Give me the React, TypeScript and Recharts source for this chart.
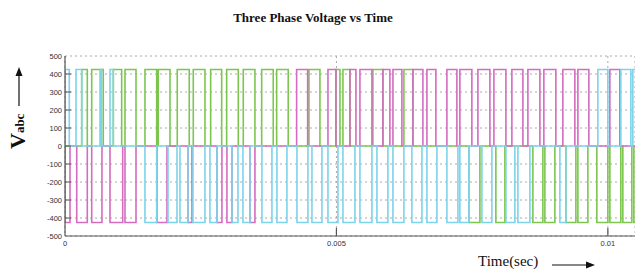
import React from 'react';
import { LineChart, Line, XAxis, YAxis, CartesianGrid } from 'recharts';

// ---- data (seconds / volts) ----
const T_MAX = 0.0105;
const LEVEL = 425;
const xTicks = [0, 0.005, 0.01];
const xTickLabels = ['0', '0.005', '0.01'];
const yTicks = [-500, -400, -300, -200, -100, 0, 100, 200, 300, 400, 500];

type Pulse = [number, number];

const greenPos: Pulse[] = [
  [0.000308, 0.000411], [0.000492, 0.000705], [0.00089, 0.001044], [0.001105, 0.001308],
  [0.001473, 0.001689], [0.001718, 0.001934], [0.002068, 0.002289], [0.002363, 0.002578],
  [0.002683, 0.002886], [0.002978, 0.003192], [0.003284, 0.003499], [0.003623, 0.003836],
  [0.003899, 0.004112], [0.004494, 0.004696], [0.004991, 0.005065], [0.00512, 0.005249],
  [0.005672, 0.005856], [0.006243, 0.006409],
];
const greenNeg: Pulse[] = [
  [0.00744, 0.007643], [0.007937, 0.008103], [0.008619, 0.008803], [0.00884, 0.009024],
  [0.009227, 0.009411], [0.009448, 0.009632], [0.009797, 0.01], [0.010037, 0.010239],
  [0.010276, 0.010442], [0.010479, 0.0106],
];
const magentaPos: Pulse[] = [
  [0.004267, 0.00447], [0.004844, 0.004991], [0.005249, 0.005359], [0.005433, 0.005654],
  [0.005856, 0.005985], [0.006041, 0.006206], [0.006409, 0.006593], [0.006667, 0.006832],
  [0.007035, 0.007219], [0.007274, 0.007495], [0.007606, 0.007827], [0.007901, 0.008122],
  [0.008232, 0.008435], [0.008527, 0.008748], [0.008821, 0.009042], [0.009171, 0.009392],
  [0.009448, 0.00965], [0.010037, 0.010221],
];
const magentaNeg: Pulse[] = [
  [0, 0.000092], [0.000216, 0.000411], [0.000492, 0.000681], [0.000829, 0.001063],
  [0.001105, 0.001308], [0.001694, 0.001879], [0.002265, 0.002339], [0.002799, 0.002891],
  [0.002983, 0.003076], [0.003407, 0.003499],
];
const cyanPos: Pulse[] = [
  [0, 0.000079], [0.000203, 0.000308], [0.000645, 0.000672], [0.000829, 0.00089],
  [0.009816, 0.01], [0.010239, 0.010424], [0.01046, 0.0106],
];
const cyanNeg: Pulse[] = [
  [0.001473, 0.001689], [0.001897, 0.002063], [0.002118, 0.002265], [0.002357, 0.002578],
  [0.00267, 0.002799], [0.003076, 0.003186], [0.003278, 0.003407], [0.003628, 0.003812],
  [0.003904, 0.004088], [0.004273, 0.004475], [0.004549, 0.004733], [0.004844, 0.005028],
  [0.00512, 0.005341], [0.005433, 0.005654], [0.005746, 0.005948], [0.006041, 0.006243],
  [0.00639, 0.006575], [0.006667, 0.006851], [0.007035, 0.007238], [0.007274, 0.00744],
  [0.00768, 0.007864], [0.008122, 0.008287], [0.008343, 0.008564], [0.009116, 0.009227],
];

function buildSeries(pos: Pulse[], neg: Pulse[]) {
  const pulses = [
    ...pos.map((p) => [p[0], p[1], LEVEL]),
    ...neg.map((p) => [p[0], p[1], -LEVEL]),
  ].sort((a, b) => a[0] - b[0]);
  const pts: { t: number; v: number }[] = [{ t: 0, v: 0 }];
  let last = 0;
  for (const [s, e, l] of pulses) {
    pts.push({ t: s, v: 0 }, { t: s, v: l }, { t: e, v: l }, { t: e, v: 0 });
    last = Math.max(last, e);
  }
  pts.push({ t: Math.max(last, T_MAX), v: 0 });
  return pts;
}

const greenData = buildSeries(greenPos, greenNeg);
const magentaData = buildSeries(magentaPos, magentaNeg);
const cyanData = buildSeries(cyanPos, cyanNeg);

const AXIS = '#555';

const YTick = (props: any) => {
  const { x, y, payload } = props;
  const edge = payload.value === 500 || payload.value === -500;
  return (
    <g>
      {!edge && <line x1={x} x2={x + 6} y1={y} y2={y} stroke={AXIS} strokeWidth={1} />}
      <text x={x - 3} y={y} dy="0.35em" textAnchor="end" fontSize={7.5} fill="#333" fontFamily="Liberation Sans, Arial, sans-serif">
        {payload.value}
      </text>
    </g>
  );
};

const XTickBottom = (props: any) => {
  const { x, y, payload, index } = props;
  const idx = xTicks.indexOf(payload.value);
  return (
    <g>
      {payload.value !== 0 && <line x1={x} x2={x} y1={y} y2={y - 8} stroke={AXIS} strokeWidth={1.2} />}
      <text x={x} y={y + 7} dy="0.35em" textAnchor="middle" fontSize={7.5} fill="#333" fontFamily="Liberation Sans, Arial, sans-serif">
        {xTickLabels[idx >= 0 ? idx : index]}
      </text>
    </g>
  );
};

const XTickTop = (props: any) => {
  const { x, y, payload } = props;
  if (payload.value === 0) return <g />;
  return <line x1={x} x2={x} y1={y} y2={y + 8} stroke={AXIS} strokeWidth={1.2} />;
};

export default function App() {
  return (
    <div style={{ position: 'absolute', left: 0, top: 0, width: 635, height: 270, background: '#fff', overflow: 'hidden' }}>
      <LineChart width={635} height={270} margin={{ top: 56, right: 0, bottom: 0, left: 0 }}>
        <CartesianGrid stroke="#aaa" strokeDasharray="2 3" />
        <XAxis
          type="number"
          dataKey="t"
          domain={[0, T_MAX]}
          allowDataOverflow
          ticks={xTicks}
          height={34}
          tickSize={0}
          tickMargin={0}
          tickLine={false}
          axisLine={{ stroke: AXIS, strokeWidth: 1.2 }}
          tick={<XTickBottom />}
          interval={0}
        />
        <XAxis
          xAxisId="top"
          orientation="top"
          type="number"
          dataKey="t"
          domain={[0, T_MAX]}
          allowDataOverflow
          ticks={xTicks}
          height={0}
          tickSize={0}
          tickMargin={0}
          tickLine={false}
          axisLine={{ stroke: '#777', strokeWidth: 1.4 }}
          tick={<XTickTop />}
          interval={0}
        />
        <YAxis
          type="number"
          domain={[-500, 500]}
          ticks={yTicks}
          width={65}
          tickSize={0}
          tickMargin={0}
          tickLine={false}
          axisLine={{ stroke: AXIS, strokeWidth: 1.2 }}
          tick={<YTick />}
          interval={0}
        />
        <Line data={greenData} dataKey="v" type="linear" stroke="#7cc650" strokeWidth={1.6} dot={false} isAnimationActive={false} />
        <Line data={magentaData} dataKey="v" type="linear" stroke="#d46cbf" strokeWidth={1.6} dot={false} isAnimationActive={false} />
        <Line data={cyanData} dataKey="v" type="linear" stroke="#7dd3ea" strokeWidth={1.6} dot={false} isAnimationActive={false} />
      </LineChart>
      <svg width={635} height={270} style={{ position: 'absolute', left: 0, top: 0, pointerEvents: 'none' }}>
        <text x={313} y={22} textAnchor="middle" fontSize={13} fontWeight="bold" fontFamily="Liberation Serif, Times New Roman, serif" fill="#111">
          Three Phase Voltage vs Time
        </text>
        <g transform="translate(25,149) rotate(-90)">
          <text x={0} y={0} fontFamily="Liberation Serif, Times New Roman, serif" fontWeight="bold" fill="#111">
            <tspan fontSize={22}>V</tspan>
            <tspan fontSize={13} dy={-1}>abc</tspan>
          </text>
        </g>
        <line x1={19} y1={106} x2={19} y2={74} stroke="#111" strokeWidth={1.2} />
        <polygon points="15.5,76 22.5,76 19,67" fill="#111" />
        <text x={478} y={266} fontSize={15} fontFamily="Liberation Serif, Times New Roman, serif" fill="#111">
          Time(sec)
        </text>
        <line x1={552} y1={265} x2={588} y2={265} stroke="#111" strokeWidth={1.2} />
        <polygon points="586,261.5 586,268.5 595,265" fill="#111" />
      </svg>
    </div>
  );
}
